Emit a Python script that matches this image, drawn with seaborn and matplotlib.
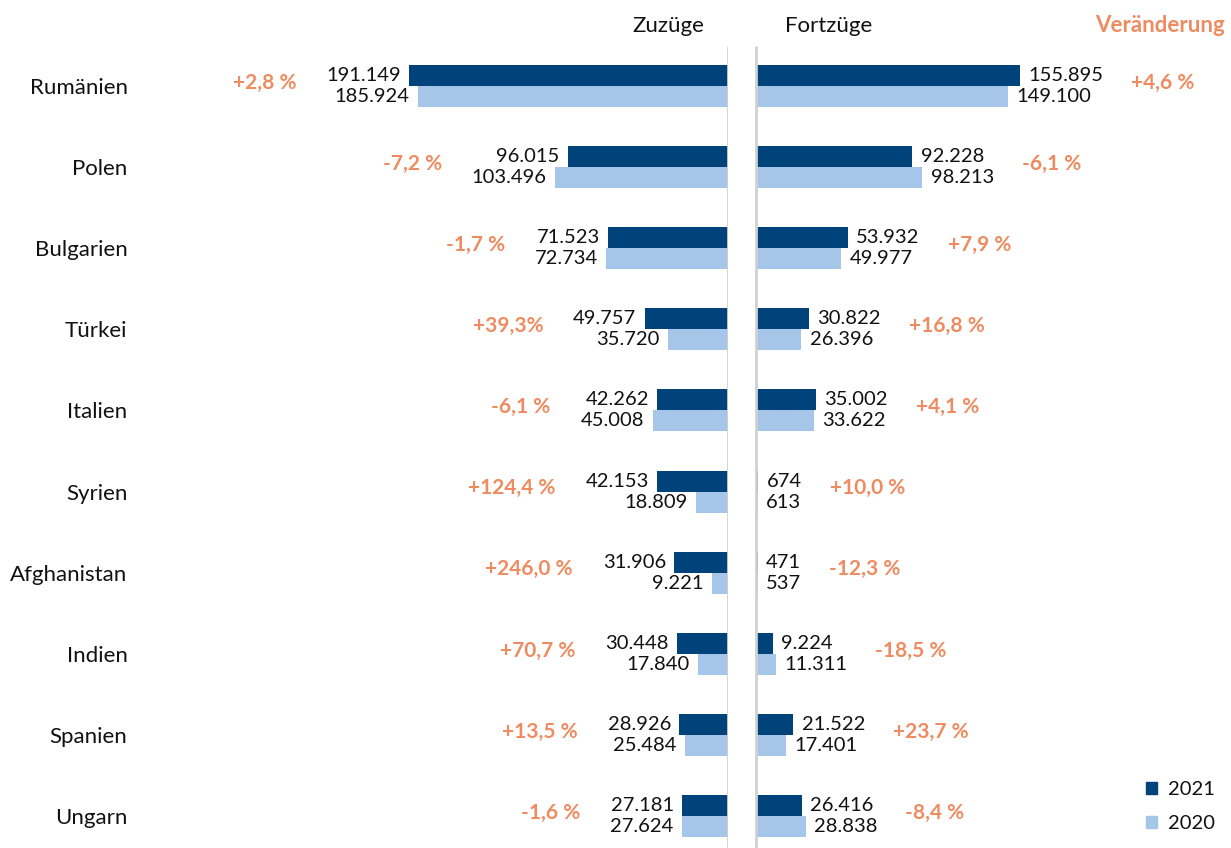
import numpy as np
import pandas as pd
import matplotlib.pyplot as plt
import seaborn as sns
from matplotlib.patches import Patch

laender = ["Rumänien", "Polen", "Bulgarien", "Türkei", "Italien", "Syrien",
           "Afghanistan", "Indien", "Spanien", "Ungarn"]
jahre = ["2021", "2020"]
zuzuege_2021 = [191149, 96015, 71523, 49757, 42262, 42153, 31906, 30448, 28926, 27181]
zuzuege_2020 = [185924, 103496, 72734, 35720, 45008, 18809, 9221, 17840, 25484, 27624]
fortzuege_2021 = [155895, 92228, 53932, 30822, 35002, 674, 471, 9224, 21522, 26416]
fortzuege_2020 = [149100, 98213, 49977, 26396, 33622, 613, 537, 11311, 17401, 28838]
veraenderung_zu = ["+2,8 %", "-7,2 %", "-1,7 %", "+39,3%", "-6,1 %", "+124,4 %",
                   "+246,0 %", "+70,7 %", "+13,5 %", "-1,6 %"]
veraenderung_fort = ["+4,6 %", "-6,1 %", "+7,9 %", "+16,8 %", "+4,1 %", "+10,0 %",
                     "-12,3 %", "-18,5 %", "+23,7 %", "-8,4 %"]

dunkel = "#00437a"
hell = "#a5c5e9"
orange = "#ef8b60"
farben = {"2021": dunkel, "2020": hell}

sns.set_style("white")
plt.rcParams['font.family'] = ['Lato', 'DejaVu Sans']
plt.rcParams['text.color'] = '#111111'

zu = pd.DataFrame({"Land": laender * 2,
                   "Jahr": ["2021"] * 10 + ["2020"] * 10,
                   "Wert": zuzuege_2021 + zuzuege_2020})
fort = pd.DataFrame({"Land": laender * 2,
                     "Jahr": ["2021"] * 10 + ["2020"] * 10,
                     "Wert": fortzuege_2021 + fortzuege_2020})

W, H = 1231, 848
fig = plt.figure(figsize=(W / 100, H / 100), dpi=100)
ax_l = fig.add_axes([140 / W, 0, (727.5 - 140) / W, 1])
ax_r = fig.add_axes([757 / W, 0, (W - 757) / W, 1])

for ax, df in [(ax_l, zu), (ax_r, fort)]:
    sns.barplot(data=df, y="Land", x="Wert", hue="Jahr", hue_order=jahre,
                palette=farben, orient="h", width=0.518, saturation=1,
                linewidth=0, legend=False, ax=ax)
    ax.set_ylim(9.395, -1.06)
    ax.set_xlabel("")
    ax.set_ylabel("")
    ax.set_xticks([])
    sns.despine(ax=ax, left=True, bottom=True)

ax_l.set_xlim((727.5 - 140) / 1.665 * 1000, 0)
ax_r.set_xlim(0, (W - 757) / 1.685 * 1000)
ax_l.tick_params(axis="y", length=0, pad=9, labelsize=16, labelcolor="#111111")
ax_r.set_yticks([])

# graue Trennlinien zwischen den beiden Seiten
ax_l.axvline(0, ymin=0, ymax=1 - 47 / H, color="#d0d0d0", lw=2, zorder=3)
ax_r.axvline(-1.5 / 1.685 * 1000, ymin=0, ymax=1 - 47 / H, color="#d0d0d0",
             lw=2, zorder=3, clip_on=False)


def fmt(v):
    return f"{int(v):,}".replace(",", ".")


labs_l = [ax_l.bar_label(c, labels=[fmt(v) for v in c.datavalues], padding=6, fontsize=14.5)
          for c in ax_l.containers]
labs_r = [ax_r.bar_label(c, labels=[fmt(v) for v in c.datavalues], padding=6, fontsize=14.5)
          for c in ax_r.containers]

fig.canvas.draw()
rend = fig.canvas.get_renderer()
for i in range(len(laender)):
    x0 = min(labs_l[k][i].get_window_extent(rend).x0 for k in range(2))
    xd = ax_l.transData.inverted().transform((x0 - 30, 0))[0]
    ax_l.text(xd, i - 0.04, veraenderung_zu[i], ha="right", va="center",
              color=orange, fontweight="bold", fontsize=15)
    x1 = max(labs_r[k][i].get_window_extent(rend).x1 for k in range(2))
    xd = ax_r.transData.inverted().transform((x1 + 28, 0))[0]
    ax_r.text(xd, i - 0.04, veraenderung_fort[i], ha="left", va="center",
              color=orange, fontweight="bold", fontsize=15)

fig.text(668 / W, 1 - 26 / H, "Zuzüge", ha="center", va="center", fontsize=16)
fig.text(829 / W, 1 - 26 / H, "Fortzüge", ha="center", va="center", fontsize=16)
fig.text(1225 / W, 1 - 26 / H, "Veränderung", ha="right", va="center",
         fontsize=16, fontweight="bold", color=orange)

fig.legend(handles=[Patch(color=dunkel), Patch(color=hell)], labels=jahre,
           loc="lower right", bbox_to_anchor=(1215 / W, 16 / H), frameon=False,
           fontsize=14.5, handlelength=0.55, handleheight=0.55, handletextpad=0.55,
           labelspacing=0.85, borderaxespad=0, borderpad=0)

fig.savefig("out.png", dpi=100)
